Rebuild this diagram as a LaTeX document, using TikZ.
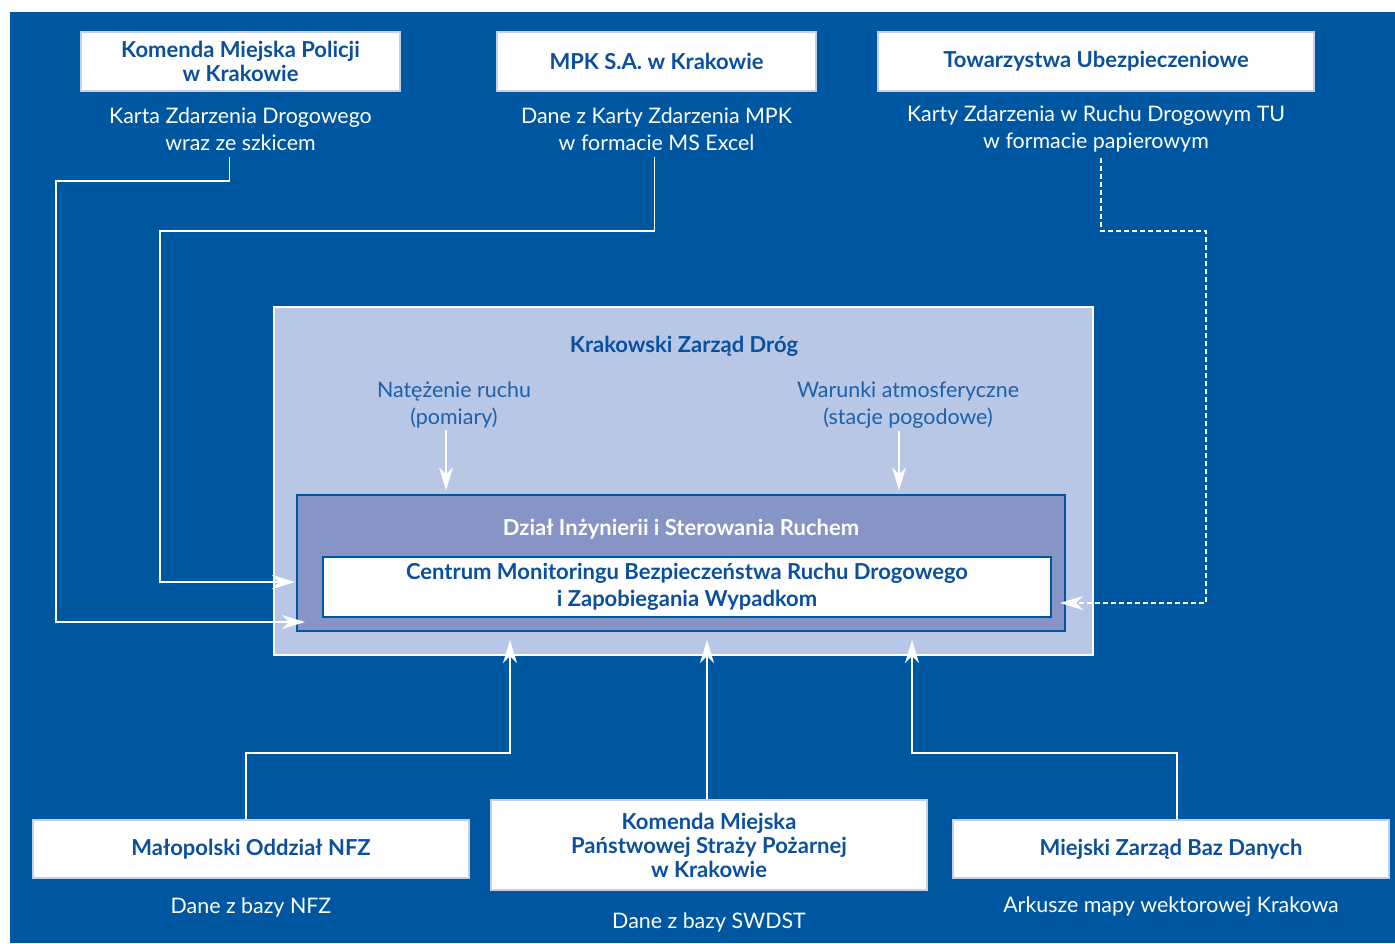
\documentclass[tikz,border=0pt]{standalone}
\usepackage{fontspec}
\setmainfont{Lato}
\usetikzlibrary{arrows.meta,positioning}
\definecolor{zbgblue}{RGB}{0,87,161}
\definecolor{ztxtblue}{RGB}{10,80,158}
\definecolor{zlblblue}{RGB}{28,96,170}
\definecolor{zpale}{RGB}{184,199,230}
\definecolor{zmid}{RGB}{134,149,197}
\definecolor{zframe}{RGB}{196,208,232}
\begin{document}
\begin{tikzpicture}
[x=1pt,y=-1pt,
  srcbox/.style={draw=zframe,line width=1.5pt,fill=white,text=ztxtblue,inner sep=0pt,
    align=center,font=\fontsize{22}{24}\selectfont\bfseries},
  srclabel/.style={text=white,inner sep=0pt,align=center,font=\fontsize{21.4}{27}\selectfont},
  innerlabel/.style={text=zlblblue,inner sep=0pt,align=center,font=\fontsize{21.4}{27}\selectfont},
  feed/.style={draw=white,line width=1.4pt,-{Stealth[length=23pt,width=14pt,inset=7pt]}},
  dashfeed/.style={feed,dash pattern=on 5pt off 3pt}]
\useasboundingbox (0,0) rectangle (1395,943);
\fill[zbgblue] (10,12) rectangle (1395,943);
%% sources on top
\foreach \nodename/\x/\boxwd/\boxtext/\lbltext in {
  kmp/240.5/319/{Komenda Miejska Policji\\w Krakowie}/{Karta Zdarzenia Drogowego\\wraz ze szkicem},
  mpk/656.5/319/{MPK S.A. w Krakowie}/{Dane z Karty Zdarzenia MPK\\w formacie MS Excel},
  tu/1096/436/{Towarzystwa Ubezpieczeniowe}/{Karty Zdarzenia w Ruchu Drogowym TU\\w formacie papierowym}}
{
  \node (\nodename) at (\x,61.5) [srcbox,minimum width=\boxwd,minimum height=59] {\boxtext};
  \node (\nodename lbl) at (\x,129) [srclabel] {\lbltext};
}
%% sources at the bottom
\foreach \nodename/\x/\y/\boxht/\boxtext/\lbltext/\ly in {
  nfz/251/849/58/{Małopolski Oddział NFZ}/{Dane z bazy NFZ}/907,
  psp/709/845/90/{Komenda Miejska\\Państwowej Straży Pożarnej\\w Krakowie}/{Dane z bazy SWDST}/922,
  mzbd/1171/849/58/{Miejski Zarząd Baz Danych}/{Arkusze mapy wektorowej Krakowa}/907}
{
  \node (\nodename) at (\x,\y) [srcbox,minimum width=436,minimum height=\boxht] {\boxtext};
  \node (\nodename lbl) at (\x,\ly) [srclabel] {\lbltext};
}
%% Krakowski Zarzad Drog
\node (kzd) at (683.5,481) [draw=white,line width=1.2pt,fill=zpale,minimum width=819,minimum height=348] {};
\node (kzdtitle) at (684,346) [text=ztxtblue,font=\fontsize{22}{24}\selectfont\bfseries] {Krakowski Zarząd Dróg};
\node (natez) at (454,405) [innerlabel] {Natężenie ruchu\\(pomiary)};
\node (warunki) at (908,405) [innerlabel] {Warunki atmosferyczne\\(stacje pogodowe)};
\node (dzial) at (681,563) [draw=zbgblue,line width=1.4pt,fill=zmid,minimum width=768,minimum height=136] {};
\node (dzialtitle) at (681,529) [text=white,font=\fontsize{22}{24}\selectfont\bfseries] {Dział Inżynierii i Sterowania Ruchem};
\node (cmb) at (687,587) [draw=zbgblue,line width=1.2pt,fill=white,text=ztxtblue,minimum width=728,minimum height=60,
  inner sep=0pt,align=center,font=\fontsize{22}{27}\selectfont\bfseries]
  {Centrum Monitoringu Bezpieczeństwa Ruchu Drogowego\\i Zapobiegania Wypadkom};
%% end points of the feeds
\coordinate (kmpin) at (305,622);
\coordinate (mpkin) at (295,582);
\coordinate (tuin) at (1060,603);
\coordinate (nfzin) at (510,640);
\coordinate (pspin) at (707,640);
\coordinate (mzbdin) at (912,640);
%% feeds
\draw[feed] ([xshift=-8pt,yshift=-2pt]natez.south) -- ([xshift=-8pt,yshift=4pt]natez.south |- dzial.north);
\draw[feed] ([xshift=-9pt,yshift=-2pt]warunki.south) -- ([xshift=-9pt,yshift=4pt]warunki.south |- dzial.north);
\draw[feed] ([xshift=-11pt,yshift=-6pt]kmplbl.south) |- (56,181) |- (kmpin);
\draw[feed] ([xshift=-2pt,yshift=-6pt]mpklbl.south) |- (160,231) |- (mpkin);
\draw[dashfeed] ([xshift=5pt,yshift=-6pt]tulbl.south) |- (1206,231) |- (tuin);
\draw[feed] ([xshift=-5pt]nfz.north) |- (510,753) -- (nfzin);
\draw[feed] ([xshift=-2pt]psp.north) -- (pspin);
\draw[feed] ([xshift=6pt]mzbd.north) |- (912,753) -- (mzbdin);
\end{tikzpicture}
\end{document}
